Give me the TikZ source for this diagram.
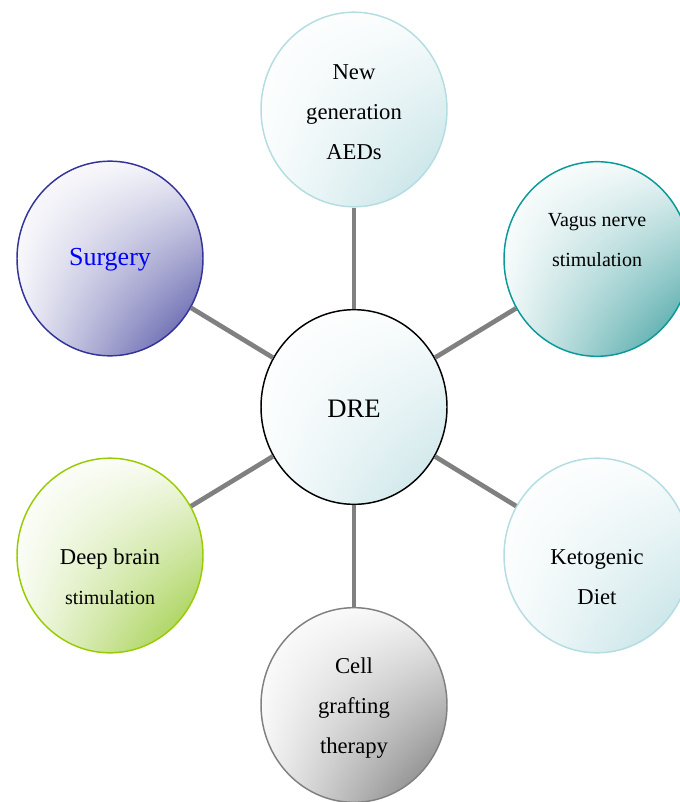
\documentclass[tikz,border=0pt]{standalone}
\usepackage{fontspec}
\setmainfont{Liberation Serif}
\usetikzlibrary{shapes.geometric, shadings}

\definecolor{surgline}{HTML}{333399}
\definecolor{surgfill}{HTML}{4848A0}
\definecolor{vnsline}{HTML}{0A9999}
\definecolor{vnsfill}{HTML}{379C9C}
\definecolor{paleline}{HTML}{B4DDE2}
\definecolor{palefill}{HTML}{BDDFE3}
\definecolor{drefill}{HTML}{C4E2E6}
\definecolor{dbsline}{HTML}{99CC00}
\definecolor{dbsfill}{HTML}{96C935}
\definecolor{cellline}{HTML}{808080}
\definecolor{cellfill}{HTML}{747474}

\tikzset{
  bubble/.style 2 args={ellipse, draw=#1, line width=1.1pt, minimum width=139.5pt,
    minimum height=146pt, inner sep=0pt,
    upper left=white, upper right=#2!8, lower left=#2!8, lower right=#2},
  link/.style={draw=gray, line width=3.5pt},
  words/.style={align=center, font=\fontsize{17}{30}\selectfont}
}

\begin{document}
\begin{tikzpicture}[x=0.75pt, y=-0.75pt]
  \useasboundingbox (0,0) rectangle (679,802);

  % hub and the six treatments
  \node (dre) [bubble={black}{drefill}, label={[words, font=\fontsize{20}{30}\selectfont, yshift=-1pt]center:DRE}] at (354,407) {};
  \node (aeds) [bubble={paleline}{palefill}, label={[words, yshift=-2pt]center:{New\\generation\\AEDs}}] at (354,109.5) {};
  \node (vns) [bubble={vnsline}{vnsfill}, label={[words, font=\fontsize{15}{30}\selectfont, yshift=14pt]center:{Vagus nerve\\stimulation}}] at (597,259) {};
  \node (surg) [bubble={surgline}{surgfill}, label={[words, font=\fontsize{19.5}{30}\selectfont, text=blue, yshift=-1pt]center:Surgery}] at (110,258.5) {};
  \node (dbs) [bubble={dbsline}{dbsfill}, label={[words, yshift=-16pt]center:{Deep brain\\\fontsize{15}{30}\selectfont stimulation}}] at (110,555.5) {};
  \node (keto) [bubble={paleline}{palefill}, label={[words, yshift=-16pt]center:{Ketogenic\\Diet}}] at (597,555.5) {};
  \node (cell) [bubble={cellline}{cellfill}, label={[words, yshift=-2pt]center:{Cell\\grafting\\therapy}}] at (354,705) {};

  % spokes
  \foreach \t in {aeds, vns, surg, dbs, keto, cell}
    \draw [link] (dre) -- (\t);
\end{tikzpicture}
\end{document}
